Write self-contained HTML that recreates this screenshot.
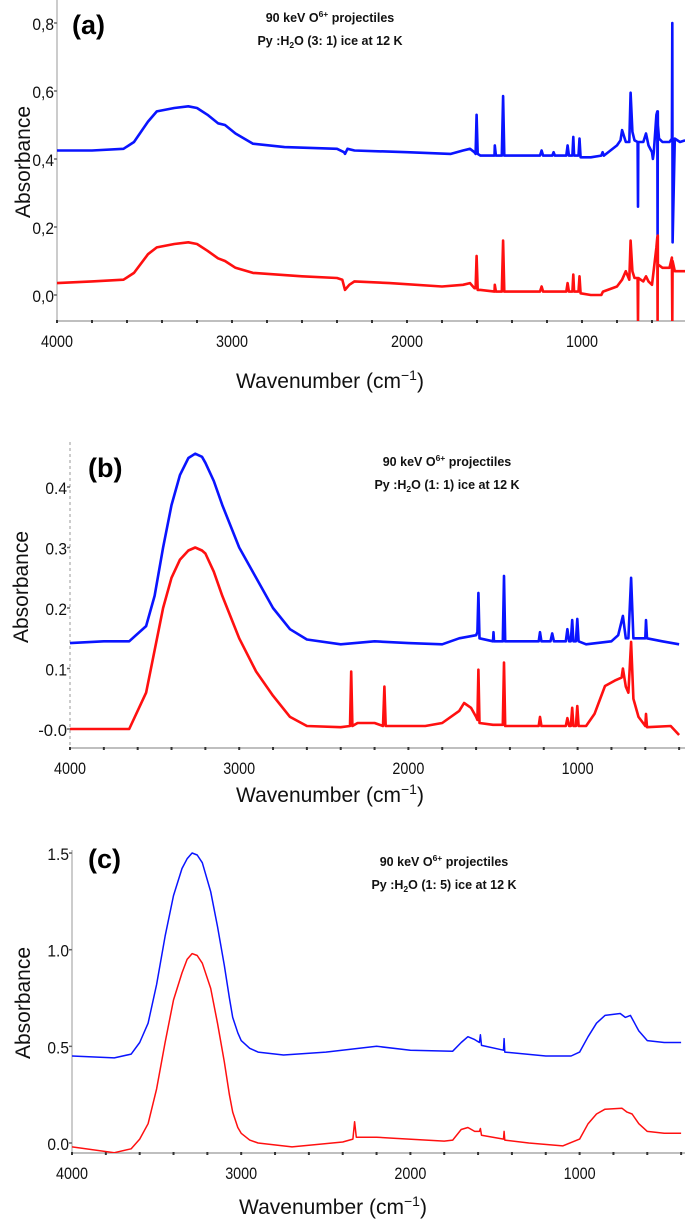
<!DOCTYPE html>
<html><head><meta charset="utf-8"><style>
html,body{margin:0;padding:0;background:#fff;}
svg{display:block;}
.tk{font-family:"Liberation Sans",sans-serif;font-size:17px;fill:#111;}
.ttl{font-family:"Liberation Sans",sans-serif;font-size:12.5px;font-weight:bold;fill:#111;}
.pl{font-family:"Liberation Sans",sans-serif;font-size:27px;font-weight:bold;fill:#000;}
.ax{font-family:"Liberation Sans",sans-serif;font-size:21px;fill:#111;}
</style></head><body>
<svg id="fig" width="685" height="1221" viewBox="0 0 685 1221"></svg>
<script>
// Panel (a) data
const aBlueWn = [4000,3800,3620,3560,3480,3430,3330,3250,3200,3140,3080,3040,2980,2880,2700,2400,2360,2354,2340,2300,2000,1750,1680,1640,1615,1608,1602,1596,1580,1500,1498,1492,1458,1451,1444,1420,1240,1231,1222,1170,1162,1155,1090,1082,1075,1055,1050,1045,1020,1014,1008,950,890,882,875,800,780,771,750,730,722,712,700,682,680,678,650,634,620,600,595,590,575,570,568,567,566,560,540,500,486,484,482,470,440,411];
const aBlueAbs = [0.425,0.425,0.43,0.45,0.51,0.54,0.55,0.555,0.55,0.53,0.505,0.5,0.475,0.445,0.435,0.43,0.42,0.415,0.43,0.425,0.42,0.415,0.425,0.43,0.42,0.415,0.53,0.415,0.41,0.41,0.44,0.41,0.41,0.585,0.41,0.41,0.41,0.425,0.41,0.41,0.42,0.41,0.41,0.44,0.41,0.41,0.465,0.41,0.41,0.46,0.405,0.405,0.41,0.42,0.41,0.44,0.455,0.485,0.45,0.45,0.595,0.48,0.455,0.45,0.26,0.45,0.45,0.475,0.44,0.42,0.40,0.42,0.53,0.54,0.15,0.54,0.5,0.46,0.45,0.45,0.46,0.80,0.155,0.46,0.45,0.455];
const aRedWn = [4000,3800,3620,3560,3480,3430,3330,3250,3200,3140,3080,3040,2980,2880,2600,2400,2370,2354,2330,2300,2100,1800,1680,1640,1615,1608,1602,1596,1580,1500,1498,1492,1458,1451,1444,1420,1240,1231,1222,1090,1082,1075,1055,1050,1045,1020,1014,1008,950,890,880,800,771,750,730,722,712,700,682,680,678,650,634,620,600,575,570,568,567,566,540,500,486,484,482,470,411];
const aRedAbs = [0.035,0.04,0.045,0.065,0.12,0.14,0.15,0.155,0.15,0.13,0.108,0.1,0.08,0.065,0.055,0.05,0.045,0.015,0.03,0.04,0.035,0.025,0.03,0.035,0.02,0.02,0.115,0.015,0.015,0.01,0.03,0.01,0.01,0.16,0.01,0.01,0.01,0.025,0.01,0.01,0.035,0.01,0.01,0.06,0.01,0.01,0.055,0.005,0.0,0.0,0.01,0.025,0.045,0.07,0.045,0.16,0.07,0.05,0.05,-0.08,0.05,0.04,0.055,0.04,0.03,0.14,0.17,-0.08,0.175,0.09,0.08,0.08,0.11,-0.08,0.1,0.07,0.07];
const aYTicks = [0.0,0.2,0.4,0.6,0.8];
const aYLabels = ["0,0","0,2","0,4","0,6","0,8"];
// Panel (b) data
const bBlueWn = [4000,3800,3650,3550,3500,3450,3400,3350,3300,3260,3220,3200,3150,3100,3000,2900,2800,2700,2600,2400,2200,2000,1800,1700,1600,1592,1586,1580,1500,1497,1494,1442,1435,1428,1230,1222,1214,1160,1150,1140,1070,1060,1050,1040,1032,1025,1010,1002,994,950,800,760,732,715,700,684,670,650,600,596,590,500,400];
const bBlueAbs = [0.142,0.145,0.145,0.17,0.22,0.30,0.37,0.42,0.448,0.455,0.45,0.44,0.41,0.37,0.30,0.25,0.20,0.165,0.148,0.14,0.145,0.142,0.14,0.15,0.155,0.16,0.225,0.15,0.145,0.16,0.145,0.145,0.253,0.145,0.145,0.16,0.145,0.145,0.158,0.145,0.145,0.165,0.145,0.145,0.18,0.145,0.145,0.182,0.145,0.14,0.145,0.155,0.187,0.15,0.15,0.25,0.15,0.15,0.15,0.18,0.15,0.145,0.14];
const bRedWn = [4000,3800,3650,3550,3500,3450,3400,3350,3300,3260,3220,3200,3150,3100,3000,2900,2800,2700,2600,2400,2345,2338,2331,2300,2200,2150,2142,2134,2100,1900,1800,1700,1671,1630,1600,1592,1586,1580,1500,1442,1435,1428,1230,1222,1214,1070,1060,1050,1040,1032,1025,1010,1002,994,950,900,838,780,740,732,715,700,684,670,640,600,596,590,450,400];
const bRedAbs = [0.0,0.0,0.0,0.06,0.13,0.20,0.25,0.28,0.295,0.30,0.295,0.29,0.26,0.22,0.15,0.095,0.055,0.02,0.005,0.003,0.005,0.095,0.005,0.01,0.01,0.005,0.07,0.005,0.005,0.005,0.01,0.03,0.043,0.035,0.02,0.015,0.098,0.01,0.007,0.007,0.11,0.005,0.005,0.02,0.005,0.005,0.018,0.005,0.005,0.035,0.005,0.005,0.038,0.005,0.005,0.025,0.071,0.08,0.085,0.1,0.07,0.06,0.144,0.05,0.02,0.005,0.025,0.003,0.005,-0.01];
const bYTicks = [0.0,0.1,0.2,0.3,0.4];
const bYLabels = ["-0.0","0.1","0.2","0.3","0.4"];
// Panel (c) data
const cBlueWn = [4000,3750,3650,3600,3550,3500,3450,3400,3350,3320,3290,3260,3230,3180,3140,3100,3070,3050,3020,3000,2950,2900,2750,2500,2200,2000,1750,1700,1660,1620,1592,1586,1580,1450,1446,1442,1200,1050,1000,950,900,850,760,730,700,650,600,500,400];
const cBlueAbs = [0.45,0.44,0.46,0.52,0.62,0.82,1.07,1.28,1.42,1.47,1.5,1.49,1.45,1.3,1.12,0.92,0.75,0.65,0.57,0.53,0.49,0.47,0.455,0.47,0.50,0.48,0.475,0.52,0.55,0.535,0.52,0.56,0.505,0.48,0.54,0.47,0.45,0.45,0.47,0.55,0.62,0.66,0.67,0.65,0.66,0.58,0.53,0.52,0.52];
const cRedWn = [4000,3750,3650,3600,3550,3500,3450,3400,3350,3320,3290,3260,3230,3180,3140,3100,3070,3050,3020,3000,2950,2900,2700,2400,2340,2330,2320,2200,2100,1800,1750,1700,1660,1620,1592,1586,1580,1450,1446,1442,1300,1100,1000,950,900,850,750,720,690,650,600,500,400];
const cRedAbs = [-0.02,-0.05,-0.03,0.02,0.1,0.28,0.52,0.74,0.88,0.95,0.98,0.97,0.93,0.8,0.62,0.42,0.25,0.16,0.08,0.05,0.015,0.0,-0.02,0.005,0.02,0.11,0.03,0.03,0.025,0.01,0.015,0.07,0.08,0.06,0.06,0.075,0.04,0.02,0.06,0.015,0.0,-0.015,0.02,0.1,0.15,0.175,0.18,0.16,0.15,0.1,0.06,0.05,0.05];
const cYTicks = [0.0,0.5,1.0,1.5];
const cYLabels = ["0.0","0.5","1.0","1.5"];
const xTicks = [4000,3000,2000,1000];
const xLabels = ["4000","3000","2000","1000"];

const NS = "http://www.w3.org/2000/svg";
const svg = document.getElementById('fig');
function mk(tag, attrs, parent){
  const e = document.createElementNS(NS, tag);
  for (const k in attrs) e.setAttribute(k, attrs[k]);
  (parent||svg).appendChild(e); return e;
}
function panel(p){
  const g = mk('g', {});
  
  
  const xs = w => p.x0 + (p.w0 - w) * p.kx;
  const ys = v => p.y0 - v * p.ky;
  const clip = mk('clipPath', {id:'clip'+p.id}, g);
  mk('rect', {x:p.x0, y:p.top, width:685-p.x0, height:p.bottom-p.top}, clip);
  const yaxis = mk('line', {x1:p.x0, y1:p.top, x2:p.x0, y2:p.bottom, stroke:'#bbb', 'stroke-width':1.5, 'stroke-dasharray':p.dash||'none'}, g);
  
  
  const xaxis = mk('line', {x1:p.x0, y1:p.bottom, x2:685, y2:p.bottom, stroke:'#aaa', 'stroke-width':1.5}, g);
  
  
  for (let w = 4000; w >= 400; w -= 200) {
    mk('rect', {x:xs(w)-1, y:p.bottom-1, width:2, height:3, fill:'#333'}, g);
  }
  xTicks.forEach((w,i) => {
    const t = mk('text', {x:xs(w)-16, y:p.bottom+26, class:'tk', textLength:32, lengthAdjust:'spacingAndGlyphs'}, g);
    t.textContent = xLabels[i];
    
    
  });
  p.yt.forEach((v,i) => {
    mk('rect', {x:p.x0-3, y:ys(v)-0.75, width:3, height:1.5, fill:'#666'}, g);
    const len = p.yl[i].length * 7.2;
    const t = mk('text', {x:p.x0-3-len, y:ys(v)+7, class:'tk', textLength:len, lengthAdjust:'spacingAndGlyphs'}, g);
    t.textContent = p.yl[i];
    
    
  });
  [[p.bw,p.ba,'#0a14ff','blue-spectrum'],[p.rw,p.ra,'#ff1010','red-spectrum']].forEach(s => {
    const pts = s[0].map((w,i) => xs(w).toFixed(1) + ',' + ys(s[1][i]).toFixed(1)).join(' ');
    const pl = mk('polyline', {points:pts, fill:'none', stroke:s[2], 'stroke-width':p.sw, 'stroke-linejoin':'round', 'clip-path':'url(#clip'+p.id+')'}, g);
    
    
  });
  const lab = mk('text', {x:p.lx, y:p.ly, class:'pl'}, g);
  lab.textContent = '(' + p.id + ')';
  
  
  const t1 = mk('text', {x:p.tx, y:p.ty, 'text-anchor':'middle', class:'ttl'}, g);
  t1.innerHTML = '90 keV  O<tspan dy="-5" font-size="8.5">6+</tspan><tspan dy="5"> projectiles</tspan>';
  
  
  const t2 = mk('text', {x:p.tx, y:p.ty+23, 'text-anchor':'middle', class:'ttl'}, g);
  t2.innerHTML = 'Py :H<tspan dy="3" font-size="8.5">2</tspan><tspan dy="-3">O (' + p.ratio + ')  ice at 12 K</tspan>';
  
  
  const yt = mk('text', {x:0, y:0, 'text-anchor':'middle', class:'ax', transform:'translate(' + p.yax + ',' + p.yay + ') rotate(-90)'}, g);
  yt.textContent = 'Absorbance';
  
  
  const xt = mk('text', {x:p.xax, y:p.xay, 'text-anchor':'middle', class:'ax'}, g);
  xt.innerHTML = 'Wavenumber (cm<tspan dy="-8" font-size="14">−1</tspan><tspan dy="8">)</tspan>';
  
  
}
panel({id:'a', x0:57, w0:4000, kx:0.175, y0:295, ky:340, top:0, bottom:321, sw:2.6,
  bw:aBlueWn, ba:aBlueAbs, rw:aRedWn, ra:aRedAbs, yt:aYTicks, yl:aYLabels,
  lx:72, ly:34, tx:330, ty:22, ratio:'3: 1', yax:30, yay:162, xax:330, xay:388});
panel({id:'b', x0:70, w0:4000, kx:0.1692, y0:729, ky:605, top:442, bottom:748, sw:2.6, dash:'3,3',
  bw:bBlueWn, ba:bBlueAbs, rw:bRedWn, ra:bRedAbs, yt:bYTicks, yl:bYLabels,
  lx:88, ly:477, tx:447, ty:466, ratio:'1: 1', yax:28, yay:587, xax:330, xay:802});
panel({id:'c', x0:72, w0:4000, kx:0.1692, y0:1143, ky:193.3, top:850, bottom:1153, sw:1.5,
  bw:cBlueWn, ba:cBlueAbs, rw:cRedWn, ra:cRedAbs, yt:cYTicks, yl:cYLabels,
  lx:88, ly:868, tx:444, ty:866, ratio:'1: 5', yax:30, yay:1003, xax:333, xay:1214});
</script>
</body></html>
